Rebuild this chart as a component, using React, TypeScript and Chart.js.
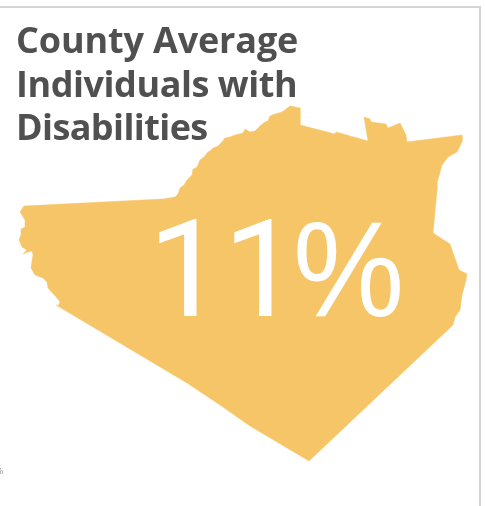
import React, { useEffect, useRef } from "react";
import { Chart, registerables } from "chart.js";

Chart.register(...registerables);

// County outline, clockwise from the north-west corner, in plot units.
const outlineX = [
  24, 163, 175, 178, 180, 184, 187, 192, 193, 196, 198, 200, 204, 208, 210, 213, 218, 222, 225, 230, 235, 243, 245,
  250, 255, 260, 265, 268, 270, 275, 282, 290, 300, 300, 335, 336, 368, 364, 370, 371, 386, 388, 400, 406, 407, 462,
  462, 457, 448, 442, 437, 437, 433, 450, 459, 467, 466, 462, 460, 455, 453, 309, 250, 223, 187, 56, 58, 60, 57, 48,
  47, 43, 35, 31, 33, 32, 28, 23, 27, 22, 19, 21, 21, 25, 25, 22, 20, 24,
];
const outlineY = [
  206, 199, 197, 194, 188, 185, 180, 175, 169, 168, 165, 160, 157, 152, 151, 148, 146, 142, 138, 137, 135, 133, 129,
  132, 131, 126, 122, 121, 116, 114, 112, 106, 108, 125, 134, 132, 141, 117, 119, 122, 124, 128, 123, 135, 142, 135,
  142, 152, 157, 165, 183, 190, 233, 244, 270, 274, 280, 295, 310, 317, 325, 461, 426, 407, 383, 305, 306, 302, 298,
  288, 282, 278, 275, 268, 255, 251, 252, 254, 250, 247, 240, 235, 229, 227, 220, 215, 212, 206,
];

const titleLines = ["County Average", "Individuals with", "Disabilities"];
const titleBaselines = [53, 96.5, 140];
const titleTracking = ["-0.15px", "-0.45px", "-0.6px"];
const valueDigits = "11";
const valueSign = "%";
const clippedMark = "%";

const inkColor = "#505050";
const countyColor = "#F6C567";
const frameColor = "#D4D4D4";

// Draws the heading, the county value over the shape and the stray axis glyph at the left edge.
const annotations = {
  id: "annotations",
  afterDatasetsDraw(chart: Chart) {
    const { ctx } = chart;
    ctx.save();
    ctx.textBaseline = "alphabetic";
    ctx.textAlign = "left";
    ctx.fillStyle = inkColor;
    ctx.font = '700 36px "Open Sans"';
    titleLines.forEach((line, i) => {
      (ctx as any).letterSpacing = titleTracking[i];
      ctx.fillText(line, 16, titleBaselines[i]);
    });
    ctx.fillStyle = "#FFFFFF";
    (ctx as any).letterSpacing = "-1.4px";
    ctx.font = '136px "Roboto"';
    ctx.fillText(valueDigits, 148, 316);
    (ctx as any).letterSpacing = "0px";
    // The percent sign is slightly condensed so it keeps its full height.
    ctx.save();
    ctx.translate(293, 316);
    ctx.scale(0.92, 1);
    ctx.font = '136px "Liberation Sans"';
    ctx.fillText(valueSign, 0, 0);
    ctx.restore();
    ctx.fillStyle = "#8A8A8A";
    ctx.font = '9px "Liberation Sans"';
    ctx.textAlign = "right";
    ctx.fillText(clippedMark, 3, 474);
    ctx.restore();
  },
};

export default function App() {
  const canvasRef = useRef<HTMLCanvasElement>(null);

  useEffect(() => {
    const chart = new Chart(canvasRef.current!, {
      type: "scatter",
      data: {
        datasets: [
          {
            label: "County",
            data: outlineX.map((x, i) => ({ x, y: outlineY[i] })),
            showLine: true,
            fill: "shape",
            tension: 0,
            backgroundColor: countyColor,
            borderColor: countyColor,
            borderWidth: 0.5,
            pointRadius: 0,
          },
        ],
      },
      plugins: [annotations],
      options: {
        animation: false,
        responsive: false,
        layout: { padding: { top: 7, right: 5, left: 0, bottom: 0 } },
        plugins: { legend: { display: false }, tooltip: { enabled: false }, title: { display: false } },
        scales: {
          x: {
            type: "linear",
            position: "top",
            min: 0,
            max: 480,
            grid: { display: false, drawTicks: false },
            ticks: { display: false },
            border: { display: true, color: frameColor, width: 2 },
          },
          y: {
            type: "linear",
            position: "right",
            reverse: true,
            min: 7,
            max: 506,
            grid: { display: false, drawTicks: false },
            ticks: { display: false },
            border: { display: true, color: frameColor, width: 2 },
          },
        },
      },
    });
    return () => chart.destroy();
  }, []);

  return (
    <div style={{ position: "fixed", left: 0, top: 0, width: 485, height: 506, background: "#FFFFFF" }}>
      <canvas ref={canvasRef} width={485} height={506} style={{ display: "block" }} />
    </div>
  );
}
